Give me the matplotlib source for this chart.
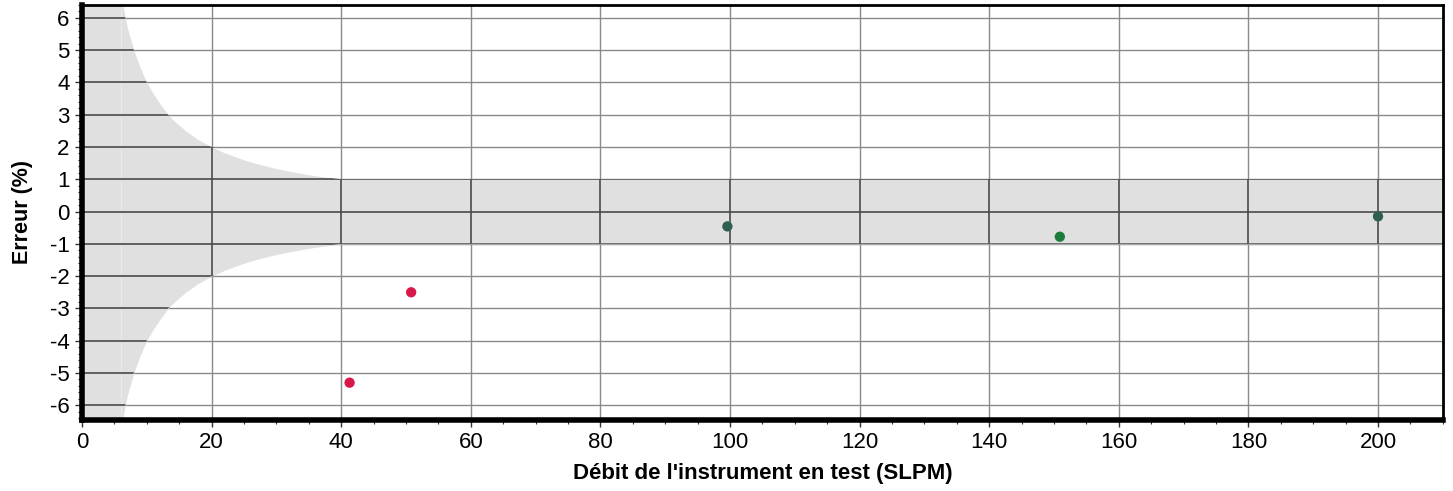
import matplotlib
matplotlib.use("Agg")
from matplotlib import pyplot as plt
from matplotlib.ticker import MultipleLocator

plt.rcParams['font.family'] = ['Liberation Sans', 'DejaVu Sans']

# tolerance envelope (upper half, mirrored below)
env_x = [6, 6.7, 7, 8, 9, 10, 11, 12, 13.3, 14, 16, 18, 20, 22, 25, 27, 30, 32, 35, 37, 40, 210]
env_y = [6.7, 6.0, 5.7, 5.0, 4.45, 4.0, 3.65, 3.35, 3.0, 2.85, 2.5, 2.22, 2.0, 1.82, 1.6, 1.48, 1.33, 1.25, 1.14, 1.08, 1.0, 1.0]

# measured points
flow = [41.3, 50.8, 99.6, 150.9, 200.0]
error = [-5.3, -2.5, -0.46, -0.78, -0.15]
colors = ['#d8184a', '#d8184a', '#2f5f52', '#1c7c3c', '#2f5f52']

fig = plt.figure(figsize=(14.53, 4.91), dpi=100)
ax = fig.add_axes([0.0564, 0.145, 0.9366, 0.845])

lower = [-v for v in env_y]
ax.fill_between(env_x, lower, env_y, color='#e0e0e0', lw=0, zorder=1)
ax.fill_between([0, env_x[0]], [-7, -7], [7, 7], color='#e0e0e0', lw=0, zorder=1)

ax.set_xlim(0, 210)
ax.set_ylim(-6.45, 6.4)
ax.xaxis.set_major_locator(MultipleLocator(20))
ax.xaxis.set_minor_locator(MultipleLocator(5))
ax.yaxis.set_major_locator(MultipleLocator(1))
ax.yaxis.set_minor_locator(MultipleLocator(0.2))
ax.grid(True, which='major', color='#8a8a8a', lw=1.0, zorder=2)
ax.set_axisbelow(True)

# darker grid where it crosses the shaded envelope
poly_x = [0] + env_x + env_x[::-1] + [0]
poly_y = [7] + env_y + lower[::-1] + [-7]
clip, = ax.fill(poly_x, poly_y, facecolor='none', edgecolor='none')
for yv in range(-6, 7):
    ln = ax.axhline(yv, color='#4a4a4a', lw=1.2, zorder=2.5)
    ln.set_clip_path(clip)
for xv in range(20, 220, 20):
    ln = ax.axvline(xv, color='#4a4a4a', lw=1.2, zorder=2.5)
    ln.set_clip_path(clip)

ax.scatter(flow, error, c=colors, s=55, zorder=5, edgecolors='none')

ax.set_yticks(range(-6, 7))
ax.set_yticklabels([str(v) for v in range(-6, 7)])

for side in ['left', 'bottom']:
    ax.spines[side].set_linewidth(4)
for side in ['top', 'right']:
    ax.spines[side].set_linewidth(2)
ax.tick_params(which='both', direction='out', labelsize=16, color='#333333')
ax.tick_params(which='major', length=5, width=1, pad=4)
ax.tick_params(which='minor', length=3, width=0.8)

ax.set_xlabel("Débit de l'instrument en test (SLPM)", fontsize=16, fontweight='bold', labelpad=7)
ax.set_ylabel("Erreur (%)", fontsize=15.5, fontweight='bold', labelpad=12)

fig.savefig('out.png', dpi=100)
